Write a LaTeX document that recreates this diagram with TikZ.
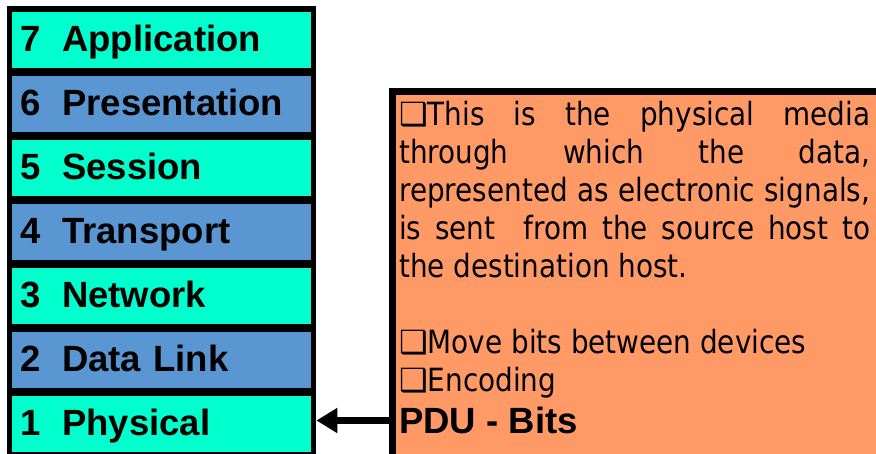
\documentclass[tikz,border=0pt]{standalone}
\usepackage{fontspec}
\setmainfont{Liberation Sans}
\newfontfamily\descfont[FakeStretch=0.87]{DejaVu Sans}
\newfontfamily\boxfont{DejaVu Sans Bold}
\newcommand{\bulletbox}{{\boxfont ❑}}
\usetikzlibrary{arrows.meta}
\definecolor{layerA}{RGB}{0,255,204}
\definecolor{layerB}{RGB}{90,150,210}
\definecolor{descfill}{RGB}{255,153,102}
\begin{document}
\begin{tikzpicture}[x=1pt,y=-1pt,
  layerbox/.style={rectangle, anchor=north west, inner xsep=8pt, inner ysep=0pt,
    minimum height=56pt, text width=283pt, align=left, text height=28pt, text depth=6pt,
    font=\fontsize{36.5}{40}\selectfont\bfseries},
  desctext/.style={anchor=base west, inner sep=0pt, font=\descfont\fontsize{32}{38}\selectfont},
  pdutext/.style={anchor=base west, inner sep=0pt, font=\fontsize{36.5}{40}\selectfont\bfseries},
  pduarrow/.style={line width=7pt, -{Triangle[length=21pt,width=24pt]}}]
\useasboundingbox (0,0) rectangle (876,453);
\fill[white] (0,0) rectangle (876,453);
\clip (0,0) rectangle (876,453);
% stack backdrop
\node[fill=black, anchor=north west, minimum width=309pt, minimum height=460pt, inner sep=0pt] (stack) at (7,6) {};
\foreach \n/\lname/\col [count=\i from 0] in {7/Application/layerA, 6/Presentation/layerB, 5/Session/layerA, 4/Transport/layerB, 3/Network/layerA, 2/Data Link/layerB, 1/Physical/layerA}{
  \node[layerbox, fill=\col] (l\n) at ({12},{12+64*\i}) {\makebox[42pt][l]{\n}\lname};
}
% description box
\node[draw=black, line width=7pt, fill=descfill, anchor=north west, minimum width=500pt, minimum height=366pt, inner sep=0pt] (desc) at (388.5,87.5) {};
\coordinate (ay) at (0,420.5);
\draw[pduarrow] (desc.west |- ay) -- (stack.east |- ay);
% description text
\node[desctext] (t1) at (399,125) {\makebox[471pt][s]{\bulletbox This is the physical media}};
\node[desctext] (t2) at (399,163) {\makebox[471pt][s]{through which the data,}};
\node[desctext] (t3) at (399,201) {\makebox[471pt][s]{represented as electronic signals,}};
\node[desctext] (t4) at (399,239) {\makebox[471pt][s]{is sent\ \ from the source host to}};
\node[desctext] (t5) at (399,277) {the destination host.};
\node[desctext] (t6) at (399,353) {\bulletbox Move bits between devices};
\node[desctext] (t7) at (399,391) {\bulletbox Encoding};
\node[pdutext] (t8) at (399,433) {PDU - Bits};
\end{tikzpicture}
\end{document}
